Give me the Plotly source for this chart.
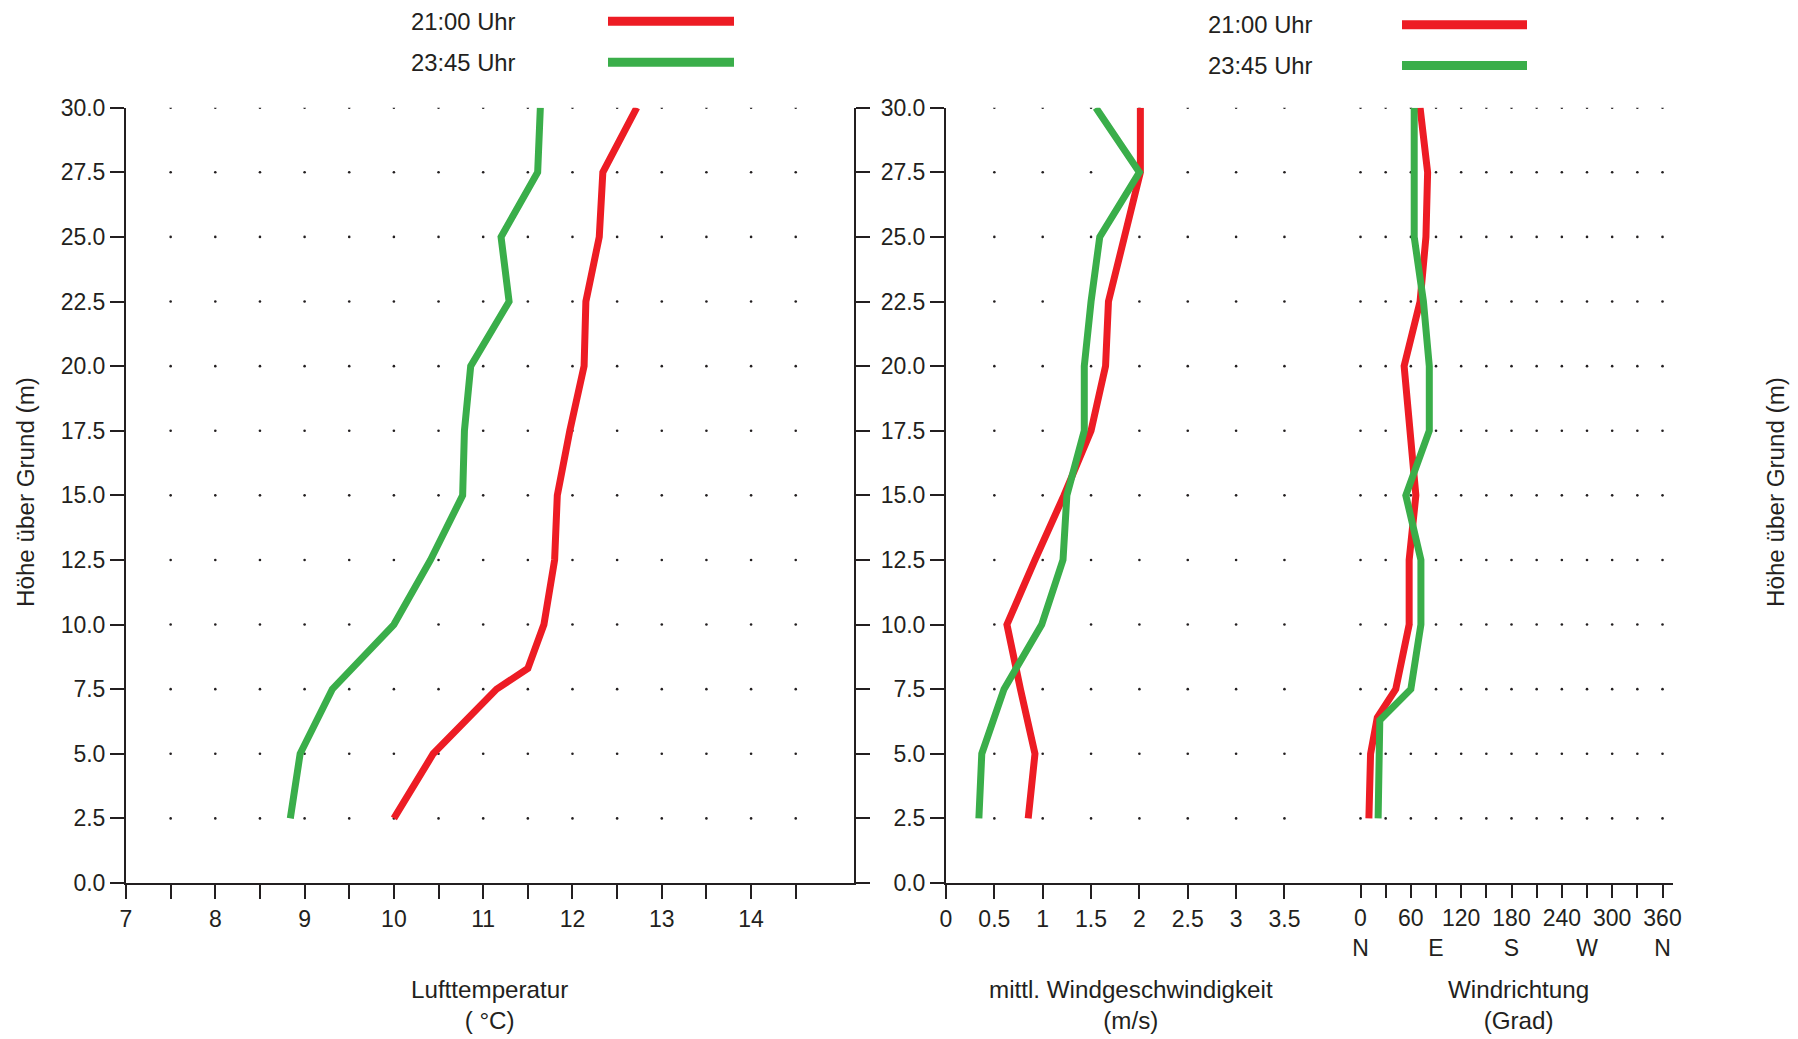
import numpy as np
import plotly.graph_objects as go

W, H = 1798, 1039

# Vertikalprofile: 21:00 Uhr und 23:45 Uhr
temp_hoehe_2100 = [2.5, 5.0, 7.5, 8.3, 10.0, 12.5, 15.0, 17.5, 20.0, 22.5, 25.0, 27.5, 30.0]
temp_2100 = [10.00, 10.44, 11.15, 11.50, 11.68, 11.80, 11.83, 11.97, 12.13, 12.15, 12.30, 12.34, 12.72]
temp_hoehe_2345 = [2.5, 5.0, 7.5, 10.0, 12.5, 15.0, 17.5, 20.0, 22.5, 25.0, 27.5, 30.0]
temp_2345 = [8.84, 8.95, 9.31, 10.00, 10.41, 10.77, 10.79, 10.86, 11.29, 11.20, 11.61, 11.64]

wind_hoehe = [2.5, 5.0, 7.5, 10.0, 12.5, 15.0, 17.5, 20.0, 22.5, 25.0, 27.5, 30.0]
wind_2100 = [0.85, 0.92, 0.77, 0.63, 0.92, 1.22, 1.50, 1.65, 1.68, 1.85, 2.01, 2.01]
wind_2345 = [0.34, 0.37, 0.60, 0.99, 1.21, 1.25, 1.43, 1.43, 1.50, 1.59, 2.00, 1.55]

richt_hoehe_2100 = [2.5, 5.0, 6.4, 7.5, 10.0, 12.5, 15.0, 17.5, 20.0, 22.5, 25.0, 27.5, 30.0]
richt_2100 = [10, 12, 20, 42, 58, 58, 66, 60, 52, 71, 78, 80, 71]
richt_hoehe_2345 = [2.5, 5.0, 6.3, 7.5, 10.0, 12.5, 15.0, 17.5, 20.0, 22.5, 25.0, 27.5, 30.0]
richt_2345 = [21, 22, 23, 60, 72, 72, 54, 82, 82, 75, 64, 64, 64]

# Achsenbeschriftungen
hoehe_ticks = [0.0, 2.5, 5.0, 7.5, 10.0, 12.5, 15.0, 17.5, 20.0, 22.5, 25.0, 27.5, 30.0]
temp_ticks = [7, 7.5, 8, 8.5, 9, 9.5, 10, 10.5, 11, 11.5, 12, 12.5, 13, 13.5, 14, 14.5]
temp_labels = ["7", "", "8", "", "9", "", "10", "", "11", "", "12", "", "13", "", "14", ""]
wind_ticks = [0, 0.5, 1, 1.5, 2, 2.5, 3, 3.5]
wind_labels = ["0", "0.5", "1", "1.5", "2", "2.5", "3", "3.5"]
richt_ticks = [0, 30, 60, 90, 120, 150, 180, 210, 240, 270, 300, 330, 360]
richt_labels = ["0<br>N", "", "60", "&nbsp;<br>E", "120", "", "180<br>S", "",
                "240", "&nbsp;<br>W", "300", "", "360<br>N"]

ROT = "#ED1C24"
GRUEN = "#3AAE4A"
INK = "#231F20"
FONT = "Liberation Sans, Arial, sans-serif"
FS = 23
LW = 7

fig = go.Figure()

# Punktraster hinter den Kurven
def raster(xs, ys, xa, ya):
    gx, gy = np.meshgrid(xs, ys)
    fig.add_trace(go.Scatter(x=gx.ravel(), y=gy.ravel(), mode="markers",
                             marker=dict(size=2.6, color=INK), xaxis=xa, yaxis=ya,
                             hoverinfo="skip", showlegend=False))

raster(temp_ticks[1:], hoehe_ticks[1:], "x", "y")
raster(wind_ticks[1:], hoehe_ticks[1:], "x2", "y2")
raster(richt_ticks, hoehe_ticks[1:], "x3", "y2")

def kurve(x, y, farbe, xa, ya):
    fig.add_trace(go.Scatter(x=x, y=y, mode="lines", line=dict(color=farbe, width=LW),
                             xaxis=xa, yaxis=ya, showlegend=False))

kurve(temp_2100, temp_hoehe_2100, ROT, "x", "y")
kurve(temp_2345, temp_hoehe_2345, GRUEN, "x", "y")
kurve(wind_2100, wind_hoehe, ROT, "x2", "y2")
kurve(wind_2345, wind_hoehe, GRUEN, "x2", "y2")
kurve(richt_2100, richt_hoehe_2100, ROT, "x3", "y2")
kurve(richt_2345, richt_hoehe_2345, GRUEN, "x3", "y2")

achse = dict(showgrid=False, zeroline=False, showline=True, linecolor=INK, linewidth=2,
             ticks="outside", ticklen=14, tickwidth=2, tickcolor=INK, automargin=False,
             tickfont=dict(family=FONT, size=FS, color=INK))

y_dom = [1 - 883 / H, 1 - 107.7 / H]
links_dom = [126 / W, 853.5 / W]
rechts_dom = [946 / W, 1673 / W]

fig.update_layout(
    width=W, height=H, margin=dict(l=0, r=0, t=0, b=0, pad=0, autoexpand=False),
    paper_bgcolor="white", plot_bgcolor="white", showlegend=False,
    xaxis=dict(achse, domain=links_dom, range=[7, 15.147], anchor="y", tickangle=0,
               tickmode="array", tickvals=temp_ticks, ticktext=temp_labels),
    yaxis=dict(achse, domain=y_dom, range=[0, 30], anchor="x", mirror="ticks",
               tickmode="array", tickvals=hoehe_ticks, tickformat=".1f"),
    xaxis2=dict(achse, domain=rechts_dom, range=[0, 7.518], anchor="y2", tickangle=0,
                tickmode="array", tickvals=wind_ticks, ticktext=wind_labels),
    xaxis3=dict(achse, domain=rechts_dom, range=[-494.1, 372.5], anchor="y2",
                overlaying="x2", showline=False, tickangle=0,
                tickmode="array", tickvals=richt_ticks, ticktext=richt_labels),
    yaxis2=dict(achse, domain=y_dom, range=[0, 30], anchor="x2", side="left",
                tickmode="array", tickvals=hoehe_ticks, tickformat=".1f"),
    yaxis3=dict(achse, domain=y_dom, range=[0, 30], anchor="x2", side="right",
                overlaying="y2", ticklabelstandoff=8,
                tickmode="array", tickvals=hoehe_ticks, tickformat=".1f"),
)

leg_txt = dict(family=FONT, size=23.8, color=INK)
tit_txt = dict(family=FONT, size=24.2, color=INK)
anns = []

# Legenden oben über beiden Feldern
for tx, lx0, lx1, yr, yg in [(409, 608, 734, 21.3, 62.2), (1206, 1402, 1527, 24.7, 65.5)]:
    for label, farbe, yy in [("21:00 Uhr", ROT, yr), ("23:45 Uhr", GRUEN, yg)]:
        anns.append(dict(text=label, x=tx / W, y=1 - yy / H, xref="paper", yref="paper",
                         xanchor="left", yanchor="middle", showarrow=False, font=leg_txt))
        fig.add_shape(type="line", xref="paper", yref="paper", x0=lx0 / W, x1=lx1 / W,
                      y0=1 - yy / H, y1=1 - yy / H, line=dict(color=farbe, width=9))

# Achsentitel
for label, xc in [("Lufttemperatur<br>( °C)", 489),
                  ("mittl. Windgeschwindigkeit<br>(m/s)", 1131),
                  ("Windrichtung<br>(Grad)", 1518)]:
    anns.append(dict(text=label, x=xc / W, y=1 - 1005 / H, xref="paper", yref="paper",
                     xanchor="center", yanchor="middle", showarrow=False, font=tit_txt))

for xc in (25, 1775):
    anns.append(dict(text="Höhe über Grund (m)", x=xc / W, y=1 - 492 / H, xref="paper",
                     yref="paper", xanchor="center", yanchor="middle", textangle=-90,
                     showarrow=False, font=tit_txt))

fig.update_layout(annotations=anns)
fig.write_html("out.html")
